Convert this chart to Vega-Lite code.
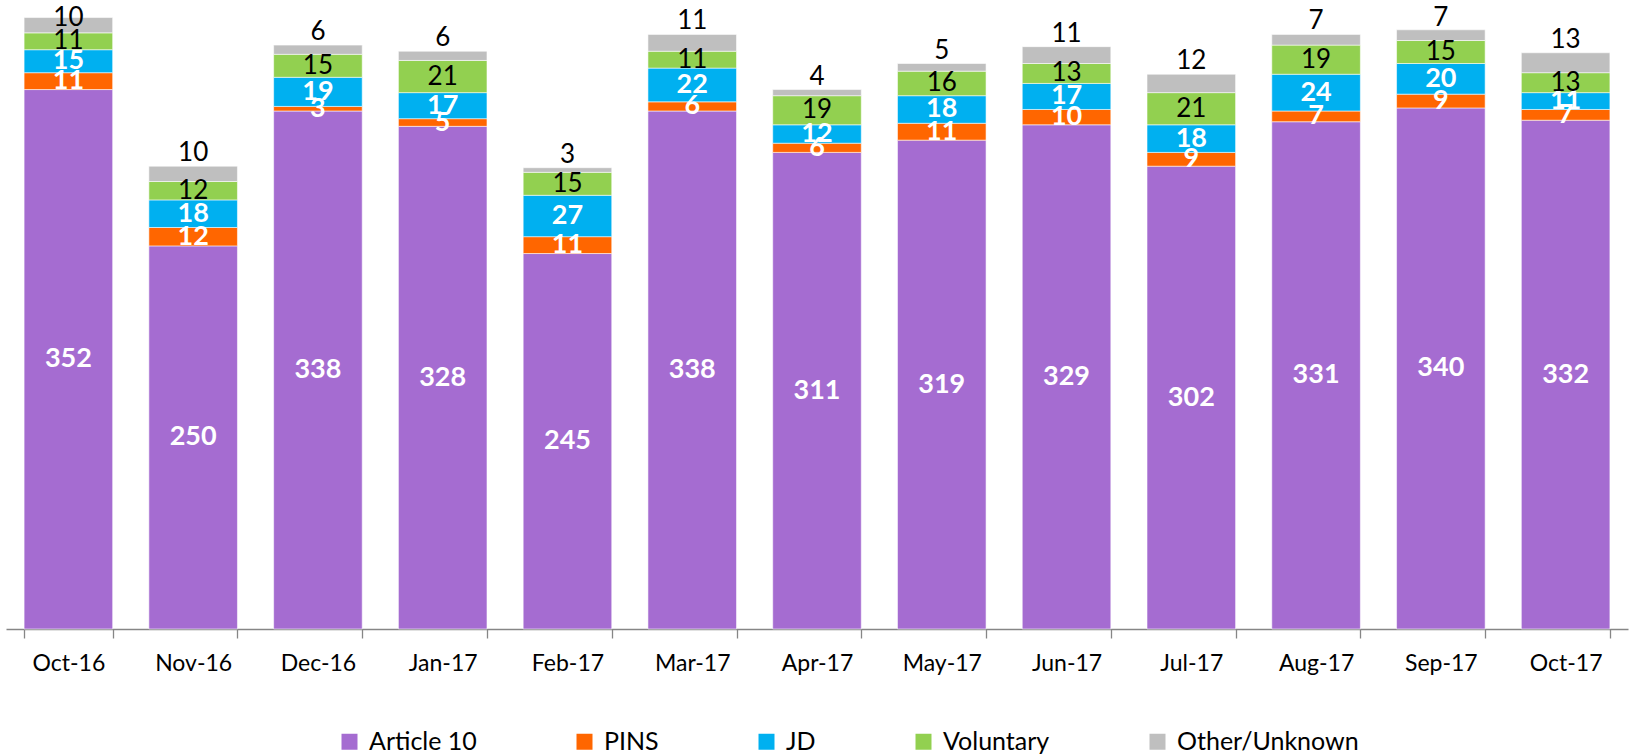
{
  "$schema": "https://vega.github.io/schema/vega-lite/v6.json",
  "width": 1622,
  "height": 613,
  "autosize": {"type": "none"},
  "padding": {"left": 6, "top": 16, "right": 3, "bottom": 125},
  "background": "white",
  "config": {"view": {"stroke": null}, "font": "Lato"},
  "data": {
    "values": [
      {"month": "Oct-16", "series": "Article 10", "value": 352},
      {"month": "Oct-16", "series": "PINS", "value": 11},
      {"month": "Oct-16", "series": "JD", "value": 15},
      {"month": "Oct-16", "series": "Voluntary", "value": 11},
      {"month": "Oct-16", "series": "Other/Unknown", "value": 10},
      {"month": "Nov-16", "series": "Article 10", "value": 250},
      {"month": "Nov-16", "series": "PINS", "value": 12},
      {"month": "Nov-16", "series": "JD", "value": 18},
      {"month": "Nov-16", "series": "Voluntary", "value": 12},
      {"month": "Nov-16", "series": "Other/Unknown", "value": 10},
      {"month": "Dec-16", "series": "Article 10", "value": 338},
      {"month": "Dec-16", "series": "PINS", "value": 3},
      {"month": "Dec-16", "series": "JD", "value": 19},
      {"month": "Dec-16", "series": "Voluntary", "value": 15},
      {"month": "Dec-16", "series": "Other/Unknown", "value": 6},
      {"month": "Jan-17", "series": "Article 10", "value": 328},
      {"month": "Jan-17", "series": "PINS", "value": 5},
      {"month": "Jan-17", "series": "JD", "value": 17},
      {"month": "Jan-17", "series": "Voluntary", "value": 21},
      {"month": "Jan-17", "series": "Other/Unknown", "value": 6},
      {"month": "Feb-17", "series": "Article 10", "value": 245},
      {"month": "Feb-17", "series": "PINS", "value": 11},
      {"month": "Feb-17", "series": "JD", "value": 27},
      {"month": "Feb-17", "series": "Voluntary", "value": 15},
      {"month": "Feb-17", "series": "Other/Unknown", "value": 3},
      {"month": "Mar-17", "series": "Article 10", "value": 338},
      {"month": "Mar-17", "series": "PINS", "value": 6},
      {"month": "Mar-17", "series": "JD", "value": 22},
      {"month": "Mar-17", "series": "Voluntary", "value": 11},
      {"month": "Mar-17", "series": "Other/Unknown", "value": 11},
      {"month": "Apr-17", "series": "Article 10", "value": 311},
      {"month": "Apr-17", "series": "PINS", "value": 6},
      {"month": "Apr-17", "series": "JD", "value": 12},
      {"month": "Apr-17", "series": "Voluntary", "value": 19},
      {"month": "Apr-17", "series": "Other/Unknown", "value": 4},
      {"month": "May-17", "series": "Article 10", "value": 319},
      {"month": "May-17", "series": "PINS", "value": 11},
      {"month": "May-17", "series": "JD", "value": 18},
      {"month": "May-17", "series": "Voluntary", "value": 16},
      {"month": "May-17", "series": "Other/Unknown", "value": 5},
      {"month": "Jun-17", "series": "Article 10", "value": 329},
      {"month": "Jun-17", "series": "PINS", "value": 10},
      {"month": "Jun-17", "series": "JD", "value": 17},
      {"month": "Jun-17", "series": "Voluntary", "value": 13},
      {"month": "Jun-17", "series": "Other/Unknown", "value": 11},
      {"month": "Jul-17", "series": "Article 10", "value": 302},
      {"month": "Jul-17", "series": "PINS", "value": 9},
      {"month": "Jul-17", "series": "JD", "value": 18},
      {"month": "Jul-17", "series": "Voluntary", "value": 21},
      {"month": "Jul-17", "series": "Other/Unknown", "value": 12},
      {"month": "Aug-17", "series": "Article 10", "value": 331},
      {"month": "Aug-17", "series": "PINS", "value": 7},
      {"month": "Aug-17", "series": "JD", "value": 24},
      {"month": "Aug-17", "series": "Voluntary", "value": 19},
      {"month": "Aug-17", "series": "Other/Unknown", "value": 7},
      {"month": "Sep-17", "series": "Article 10", "value": 340},
      {"month": "Sep-17", "series": "PINS", "value": 9},
      {"month": "Sep-17", "series": "JD", "value": 20},
      {"month": "Sep-17", "series": "Voluntary", "value": 15},
      {"month": "Sep-17", "series": "Other/Unknown", "value": 7},
      {"month": "Oct-17", "series": "Article 10", "value": 332},
      {"month": "Oct-17", "series": "PINS", "value": 7},
      {"month": "Oct-17", "series": "JD", "value": 11},
      {"month": "Oct-17", "series": "Voluntary", "value": 13},
      {"month": "Oct-17", "series": "Other/Unknown", "value": 13}
    ]
  },
  "transform": [
    {"calculate": "indexof(['Article 10','PINS','JD','Voluntary','Other/Unknown'], datum.series)", "as": "k"},
    {"stack": "value", "groupby": ["month"], "sort": [{"field": "k", "order": "ascending"}], "as": ["y0", "y1"]},
    {"calculate": "(datum.y0 + datum.y1) / 2", "as": "ymid"},
    {"calculate": "min(datum.y1, 390)", "as": "ytop"}
  ],
  "encoding": {
    "x": {
      "field": "month",
      "type": "nominal",
      "sort": null,
      "scale": {"paddingInner": 0.29, "paddingOuter": 0.145},
      "axis": {
        "title": null,
        "labelAngle": 0,
        "labelFont": "Lato",
        "labelFontSize": 23,
        "labelColor": "#000000",
        "labelPadding": 14,
        "domainColor": "#868686",
        "domainWidth": 1.3,
        "tickBand": "extent",
        "tickColor": "#868686",
        "tickWidth": 1.3,
        "tickSize": 9
      }
    }
  },
  "layer": [
    {
      "mark": {"type": "bar", "stroke": "#ffffff", "strokeWidth": 0.8, "strokeOpacity": 0.7},
      "encoding": {
        "y": {"field": "y0", "type": "quantitative", "scale": {"domain": [0, 400], "nice": false}, "axis": null},
        "y2": {"field": "y1"},
        "color": {
          "field": "series",
          "type": "nominal",
          "scale": {
            "domain": ["Article 10", "PINS", "JD", "Voluntary", "Other/Unknown"],
            "range": ["#A56CD1", "#FF6600", "#00B0F0", "#92D050", "#BFBFBF"]
          },
          "legend": {
            "title": null,
            "orient": "none",
            "direction": "horizontal",
            "legendX": 331,
            "legendY": 713,
            "symbolType": "square",
            "symbolSize": 256,
            "symbolStrokeWidth": 0,
            "labelFont": "Lato",
            "labelFontSize": 25,
            "labelColor": "#000000",
            "labelOffset": 7,
            "labelLimit": 0,
            "columnPadding": 95,
            "padding": 0
          }
        }
      }
    },
    {
      "transform": [{"filter": "datum.k <= 2"}],
      "mark": {"type": "text", "font": "Lato", "fontSize": 27, "fontWeight": "bold", "fill": "#ffffff", "baseline": "middle"},
      "encoding": {
        "y": {"field": "ymid", "type": "quantitative"},
        "text": {"field": "value", "type": "quantitative"}
      }
    },
    {
      "transform": [{"filter": "datum.k == 3"}],
      "mark": {"type": "text", "font": "Lato", "fontSize": 26, "fill": "#000000", "baseline": "middle"},
      "encoding": {
        "y": {"field": "ymid", "type": "quantitative"},
        "text": {"field": "value", "type": "quantitative"}
      }
    },
    {
      "transform": [{"filter": "datum.k == 4"}],
      "mark": {"type": "text", "font": "Lato", "fontSize": 26, "fill": "#000000", "baseline": "alphabetic", "dy": -5},
      "encoding": {
        "y": {"field": "ytop", "type": "quantitative"},
        "text": {"field": "value", "type": "quantitative"}
      }
    }
  ]
}
